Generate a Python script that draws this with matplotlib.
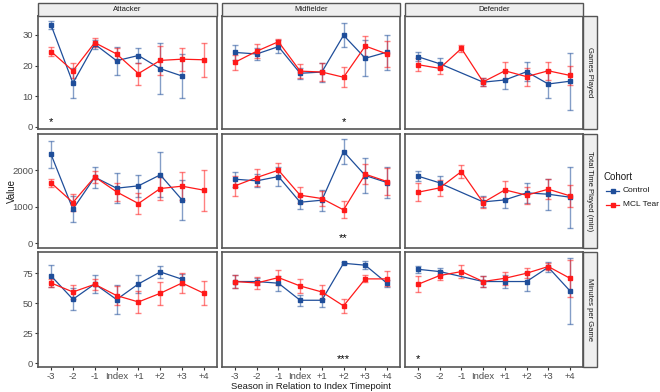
import numpy as np
import matplotlib.pyplot as plt
from matplotlib.patches import Rectangle

nan = np.nan

seasons = ['-3', '-2', '-1', 'Index', '+1', '+2', '+3', '+4']
positions = ['Attacker', 'Midfielder', 'Defender']
metrics = ['Games Played', 'Total Time Played (min)', 'Minutes per Game']

# ---- Games Played ----
gp_ctrl = {
    'Attacker':   [33.2, 14.3, 27.0, 21.6, 23.3, 19.0, 16.6, nan],
    'Midfielder': [24.3, 23.8, 26.2, 17.5, 17.9, 29.9, 22.4, 24.4],
    'Defender':   [22.9, 20.6, nan, 14.6, 15.3, 18.0, 14.0, 14.9],
}
gp_ctrl_err = {
    'Attacker':   [1.4, 4.8, 1.5, 4.6, 2.6, 8.4, 7.3, nan],
    'Midfielder': [2.4, 1.9, 2.2, 1.8, 3.1, 3.9, 5.9, 5.7],
    'Defender':   [1.5, 1.8, nan, 1.4, 2.9, 3.1, 4.6, 9.3],
}
gp_mcl = {
    'Attacker':   [24.6, 18.3, 27.5, 23.8, 17.4, 21.7, 22.1, 21.9],
    'Midfielder': [21.1, 24.7, 27.8, 18.2, 17.9, 16.2, 26.4, 23.8],
    'Defender':   [20.3, 19.1, 25.6, 14.7, 18.3, 16.4, 18.3, 16.8],
}
gp_mcl_err = {
    'Attacker':   [1.4, 2.4, 1.4, 2.0, 3.6, 4.8, 3.8, 5.6],
    'Midfielder': [2.5, 2.3, 0.8, 2.2, 2.8, 3.2, 3.4, 4.1],
    'Defender':   [2.1, 1.9, 1.0, 1.4, 2.8, 2.9, 2.9, 3.0],
}

# ---- Total Time Played (min) ----
tt_ctrl = {
    'Attacker':   [2429, 932, 1808, 1507, 1571, 1872, 1187, nan],
    'Midfielder': [1753, 1708, 1826, 1123, 1178, 2511, 1854, 1662],
    'Defender':   [1836, 1653, nan, 1132, 1187, 1379, 1342, 1260],
}
tt_ctrl_err = {
    'Attacker':   [360, 350, 285, 410, 305, 615, 545, nan],
    'Midfielder': [205, 180, 270, 180, 290, 340, 490, 425],
    'Defender':   [145, 175, nan, 150, 235, 275, 420, 835],
}
tt_mcl = {
    'Attacker':   [1653, 1114, 1817, 1406, 1087, 1498, 1562, 1452],
    'Midfielder': [1571, 1799, 2000, 1315, 1224, 913, 1890, 1689],
    'Defender':   [1397, 1516, 1963, 1114, 1461, 1315, 1479, 1297],
}
tt_mcl_err = {
    'Attacker':   [115, 225, 170, 250, 290, 315, 375, 560],
    'Midfielder': [265, 230, 200, 215, 215, 230, 275, 375],
    'Defender':   [250, 210, 180, 145, 255, 230, 275, 300],
}

# ---- Minutes per Game ----
mpg_ctrl = {
    'Attacker':   [72.8, 53.3, 66.1, 53.1, 66.1, 76.1, 70.0, nan],
    'Midfielder': [68.1, 68.1, 66.7, 52.5, 52.5, 83.3, 81.7, 66.7],
    'Defender':   [78.3, 76.4, nan, 68.1, 68.1, 68.1, 80.0, 60.3],
}
mpg_ctrl_err = {
    'Attacker':   [9.3, 9.0, 7.8, 11.8, 7.8, 4.7, 4.7, nan],
    'Midfielder': [5.6, 2.8, 6.3, 4.5, 5.5, 0.9, 3.2, 3.0],
    'Defender':   [2.8, 2.8, nan, 4.4, 5.8, 7.6, 4.0, 27.3],
}
mpg_mcl = {
    'Attacker':   [66.9, 59.4, 65.8, 56.4, 51.1, 58.3, 66.9, 58.3],
    'Midfielder': [68.1, 66.9, 71.4, 64.4, 59.4, 47.8, 70.3, 70.3],
    'Defender':   [65.8, 73.1, 76.4, 68.1, 70.8, 75.0, 80.6, 70.8],
}
mpg_mcl_err = {
    'Attacker':   [3.6, 6.2, 4.8, 7.9, 9.2, 9.6, 8.4, 10.0],
    'Midfielder': [5.5, 5.0, 6.5, 5.5, 6.2, 6.1, 3.0, 6.2],
    'Defender':   [6.5, 3.8, 5.5, 4.9, 5.5, 4.2, 2.8, 15.5],
}

# significance marks: (metric, position, season, label)
stars = [
    ('Games Played', 'Attacker', '-3', '*'),
    ('Games Played', 'Midfielder', '+2', '*'),
    ('Total Time Played (min)', 'Midfielder', '+2', '**'),
    ('Minutes per Game', 'Midfielder', '+2', '***'),
    ('Minutes per Game', 'Defender', '-3', '*'),
]

data = {
    'Games Played': (gp_ctrl, gp_ctrl_err, gp_mcl, gp_mcl_err),
    'Total Time Played (min)': (tt_ctrl, tt_ctrl_err, tt_mcl, tt_mcl_err),
    'Minutes per Game': (mpg_ctrl, mpg_ctrl_err, mpg_mcl, mpg_mcl_err),
}
ylims = {
    'Games Played': (-0.7, 36.2),
    'Total Time Played (min)': (-130, 2990),
    'Minutes per Game': (-3.1, 92.7),
}
yticks = {
    'Games Played': [0, 10, 20, 30],
    'Total Time Played (min)': [0, 1000, 2000],
    'Minutes per Game': [0, 25, 50, 75],
}
star_y = {
    'Games Played': 1.5,
    'Total Time Played (min)': 130,
    'Minutes per Game': 3.6,
}

BLUE = '#1F4E9A'
RED = '#FF1A1A'
TXT = '#4D4D4D'

plt.rcParams['font.family'] = ['Liberation Sans', 'DejaVu Sans']

fig = plt.figure(figsize=(6.6, 3.92), dpi=100)
W, H = 660, 392
col_x = [(38, 217), (222, 400), (405, 583)]
row_y = [(16, 129), (134, 248), (252, 367)]
x = np.arange(len(seasons))


def draw_series(ax, vals, errs, color):
    v = np.array(vals, dtype=float)
    e = np.array(errs, dtype=float)
    ok = ~np.isnan(v)
    ax.errorbar(x[ok], v[ok], yerr=e[ok], fmt='none', ecolor=color, alpha=0.55,
                elinewidth=1.0, capsize=2, capthick=1.0, zorder=2)
    ax.plot(x[ok], v[ok], color=color, lw=0.9, marker='s', ms=2.8, zorder=3)


for r, m in enumerate(metrics):
    ctrl, ctrl_err, mcl, mcl_err = data[m]
    for c, p in enumerate(positions):
        x0, x1 = col_x[c]
        y0, y1 = row_y[r]
        ax = fig.add_axes([x0 / W, 1 - y1 / H, (x1 - x0) / W, (y1 - y0) / H])
        draw_series(ax, ctrl[p], ctrl_err[p], BLUE)
        draw_series(ax, mcl[p], mcl_err[p], RED)
        ax.set_xlim(-0.6, 7.6)
        ax.set_ylim(*ylims[m])
        ax.set_xticks(x)
        ax.set_yticks(yticks[m])
        ax.tick_params(colors='#333333', labelcolor=TXT, labelsize=6.8,
                       length=2.5, width=0.8, pad=1.0)
        if r == 2:
            ax.set_xticklabels(seasons)
        else:
            ax.tick_params(axis='x', length=0, labelbottom=False)
        if c != 0:
            ax.tick_params(axis='y', length=0, labelleft=False)
        for s in ax.spines.values():
            s.set_color('#555555')
            s.set_linewidth(1.2)
        for sm, sp, ss, lab in stars:
            if sm == m and sp == p:
                ax.text(seasons.index(ss), star_y[m], lab, ha='center',
                        va='center', fontsize=8, color='black')
        # strips
        if r == 0:
            fig.patches.append(Rectangle((x0 / W, 1 - y0 / H), (x1 - x0) / W, 13 / H,
                                         transform=fig.transFigure, facecolor='#EFEFEF',
                                         edgecolor='#555555', lw=1.0))
            fig.text((x0 + x1) / 2 / W, 1 - 9.5 / H, p, ha='center', va='center',
                     fontsize=5.5, color='#1A1A1A')
        if c == 2:
            fig.patches.append(Rectangle((x1 / W, 1 - y1 / H), 14 / W, (y1 - y0) / H,
                                         transform=fig.transFigure, facecolor='#EFEFEF',
                                         edgecolor='#555555', lw=1.0))
            fig.text((x1 + 7) / W, 1 - (y0 + y1) / 2 / H, m, ha='center', va='center',
                     rotation=-90, fontsize=5.5, color='#1A1A1A')

fig.text(12 / W, 1 - 191 / H, 'Value', rotation=90, ha='center', va='center',
         fontsize=7, color='#1A1A1A')
fig.text(311 / W, 1 - 386.5 / H, 'Season in Relation to Index Timepoint', ha='center',
         va='center', fontsize=6.8, color='#1A1A1A')

# legend
fig.text(603 / W, 1 - 177 / H, 'Cohort', ha='left', va='center', fontsize=7,
         color='#1A1A1A')
for i, (lab, col) in enumerate([('Control', BLUE), ('MCL Tear', RED)]):
    yy = 1 - (191 + 14 * i) / H
    fig.add_artist(plt.Line2D([606 / W, 619 / W], [yy, yy], color=col, lw=0.9,
                              transform=fig.transFigure))
    fig.add_artist(plt.Line2D([612.5 / W], [yy], color=col, marker='s', ms=2.8,
                              transform=fig.transFigure))
    fig.text(623 / W, yy, lab, ha='left', va='center', fontsize=6, color='#1A1A1A')

fig.savefig('out.png', dpi=100)
